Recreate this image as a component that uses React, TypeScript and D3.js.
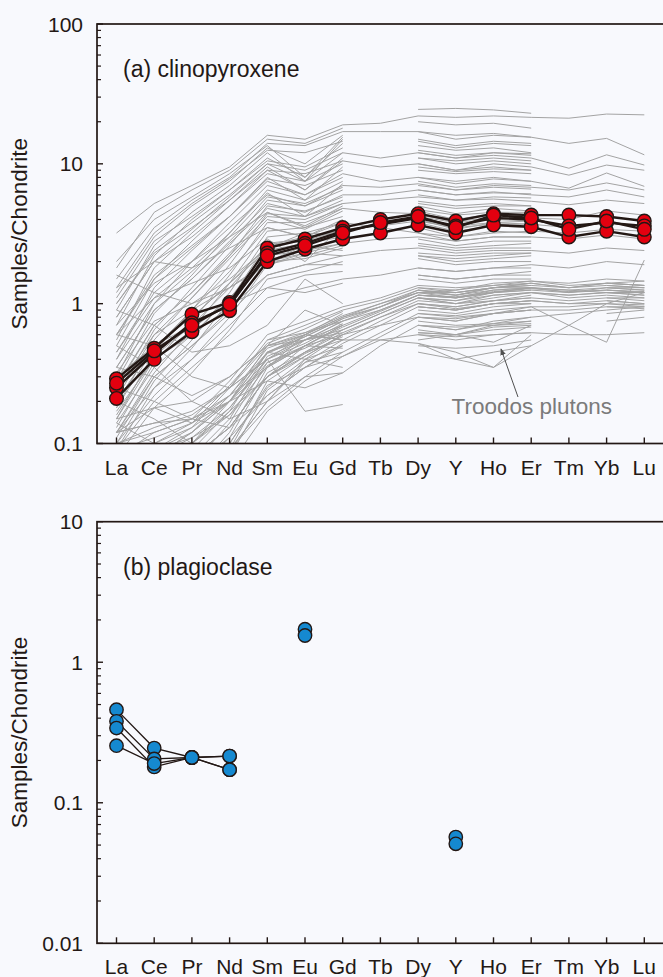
import React from "react";
import * as d3 from "d3";

const ELEMENTS = ["La", "Ce", "Pr", "Nd", "Sm", "Eu", "Gd", "Tb", "Dy", "Y", "Ho", "Er", "Tm", "Yb", "Lu"];
const _ = null;
type V = number | null;

// (a) clinopyroxene, this study
const CPX_SAMPLES: V[][] = [
  [0.29, 0.48, 0.84, 1.02, 2.5, 2.9, 3.5, 4.0, 4.4, 3.9, 4.4, 4.3, 4.3, 4.2, 3.9],
  [0.25, 0.44, 0.73, 0.97, 2.3, 2.7, 3.3, 3.7, 4.1, 3.6, 4.1, 4.0, 3.6, 3.8, 3.6],
  [0.21, 0.40, 0.63, 0.89, 2.0, 2.45, 2.9, 3.2, 3.65, 3.2, 3.65, 3.55, 3.0, 3.3, 3.0],
  [0.27, 0.46, 0.70, 0.99, 2.2, 2.6, 3.2, 3.8, 4.2, 3.5, 4.3, 4.1, 3.4, 3.9, 3.4],
];

// Troodos plutons: complete profiles, upper group
const TROODOS_UPPER: V[][] = [
  [3.2, 5.2, 7.0, 9.5, 16, 15, 19, 19.5, 22, 21.5, 22, 21.5, 21.2, 22.7, 22.4],
  [1.5, 3.5, 5.5, 8, 14, 13.5, 17, 17, 17, 15, 16, 15.5, 14, 15.2, 11.6],
  [1.0, 2.4, 3.8, 6, 10, 7.5, 12, 11, 12, 11, 11.5, 11, 9.3, 11.6, 9.8],
  [0.8, 2.0, 3.0, 5, 9, 6.5, 10.5, 9.5, 10, 9, 10, 9.5, 8.3, 9.8, 9.0],
  [0.6, 1.6, 2.6, 4.2, 7.5, 6.0, 8.5, 7.5, 8, 7.5, 8, 7.5, 6.7, 8.6, 6.9],
  [0.45, 1.2, 2.0, 3.5, 6.0, 5.0, 7.0, 6.8, 7.2, 6.5, 7, 6.8, 6.5, 7.3, 6.5],
  [0.35, 0.9, 1.5, 2.8, 5.2, 4.5, 6.0, 6.0, 6.5, 6.0, 6.3, 6.0, 5.8, 6.5, 5.8],
  [0.25, 0.7, 1.2, 2.2, 4.2, 4.0, 5.2, 5.5, 5.8, 5.5, 5.6, 5.4, 5.1, 5.5, 5.2],
  [0.2, 0.5, 0.8, 1.4, 2.6, 2.8, 3.4, 3.6, 3.9, 3.6, 3.8, 3.7, 3.5, 3.8, 3.6],
  [0.15, 0.4, 0.65, 1.1, 2.0, 2.3, 2.7, 2.9, 3.0, 2.8, 3.0, 3.0, 2.9, 3.1, 2.9],
  [0.12, 0.3, 0.5, 0.85, 1.6, 1.9, 2.2, 2.4, 2.5, 2.3, 2.4, 2.4, 2.3, 2.5, 2.4],
  [0.09, 0.2, 0.35, 0.6, 1.1, 1.3, 1.5, 1.6, 1.8, 1.7, 1.8, 1.9, 1.8, 2.0, 1.9],
  [0.7, 1.4, 2.0, 3.0, 4.5, 3.5, 4.8, 4.5, 4.4, 4.0, 4.3, 4.1, 4.0, 4.6, 4.3],
  [1.3, 2.0, 1.8, 2.5, 3.5, 3.0, 3.8, 3.5, 3.2, 3.0, 3.2, 3.3, 3.2, 3.4, 3.3],
  [0.25, 0.2, 0.15, 0.13, 0.22, 0.35, 0.42, 0.55, 0.6, 0.55, 0.6, 0.62, 0.6, 0.6, 0.62],
];

// Troodos plutons: profiles without Tb, Tm, Yb, Lu
const TROODOS_PARTIAL: V[][] = [
  [1.2, 3.0, 5, 7.5, 13, 10, 16, _, 24.5, 24.9, 24.3, 23, _, _, _],
  [1.8, 4.5, 6.5, 9, 15, 14, 18, _, 20, 19, 19.5, 18, _, _, _],
  [0.9, 2.6, 4.5, 7, 12, 7.5, 15, _, 15, 13.5, 14.5, 14, _, _, _],
  [0.7, 2.2, 4, 6.5, 11, 8, 14, _, 13.5, 12.5, 13, 12, _, _, _],
  [1.1, 2.8, 4.2, 6.5, 10.5, 9.5, 13, _, 12, 11, 12, 11.5, _, _, _],
  [0.55, 1.8, 3.2, 5.5, 9.5, 6.5, 11, _, 11, 10.5, 11, 10.5, _, _, _],
  [0.5, 1.5, 2.8, 5, 8.5, 7.5, 10, _, 10, 9, 9.5, 9, _, _, _],
  [0.4, 1.3, 2.4, 4.2, 8, 5.5, 9.5, _, 9, 8.5, 8.8, 8.5, _, _, _],
  [0.3, 1.0, 2.0, 3.8, 7, 6, 8, _, 8, 7.2, 7.8, 7.5, _, _, _],
  [0.28, 0.85, 1.6, 3.2, 6.5, 5.5, 7.5, _, 7, 6.5, 6.8, 6.6, _, _, _],
  [0.22, 0.65, 1.3, 2.6, 5.5, 5, 6.5, _, 6, 5.5, 5.8, 5.7, _, _, _],
  [0.18, 0.55, 1.1, 2.2, 5.0, 4.6, 5.8, _, 5.4, 5.0, 5.2, 5.0, _, _, _],
  [0.15, 0.45, 0.9, 1.9, 4.4, 4.2, 5.2, _, 5.0, 4.4, 4.8, 4.6, _, _, _],
  [0.13, 0.38, 0.75, 1.6, 3.8, 3.8, 4.8, _, 4.6, 4.0, 4.4, 4.2, _, _, _],
  [0.12, 0.32, 0.65, 1.4, 3.3, 3.5, 4.2, _, 4.2, 3.8, 4.0, 3.9, _, _, _],
  [0.1, 0.28, 0.55, 1.2, 3.0, 3.2, 3.8, _, 3.8, 3.3, 3.6, 3.5, _, _, _],
  [0.09, 0.25, 0.48, 1.05, 2.7, 2.9, 3.4, _, 3.5, 3.0, 3.3, 3.2, _, _, _],
  [0.16, 0.42, 0.7, 1.3, 2.6, 3.0, 3.3, _, 3.2, 2.8, 3.0, 3.0, _, _, _],
  [0.2, 0.5, 0.8, 1.4, 2.4, 2.7, 3.0, _, 2.9, 2.6, 2.8, 2.8, _, _, _],
  [0.14, 0.35, 0.6, 1.1, 2.2, 2.4, 2.7, _, 2.6, 2.4, 2.5, 2.5, _, _, _],
  [0.11, 0.3, 0.5, 0.9, 2.0, 2.1, 2.5, _, 2.3, 2.2, 2.3, 2.3, _, _, _],
  [0.25, 0.6, 0.9, 1.3, 1.9, 2.3, 2.2, _, 2.1, 1.9, 2.0, 2.0, _, _, _],
  [0.17, 0.4, 0.6, 0.95, 1.6, 1.9, 1.9, _, 1.8, 1.7, 1.8, 1.8, _, _, _],
  [0.32, 0.75, 1.0, 1.5, 2.5, 3.2, 3.1, _, 1.6, 1.5, 1.6, 1.6, _, _, _],
  [0.12, 0.25, 0.4, 0.7, 1.3, 1.6, 1.7, _, 1.5, 1.4, 1.5, 1.5, _, _, _],
  [1.6, 1.2, 1.0, 1.3, 2.0, 2.6, 2.4, _, 2.2, 2.0, 2.1, 2.2, _, _, _],
  [0.9, 0.7, 0.45, 0.5, 0.7, 1.5, 1.0, _, 1.1, 1.0, 1.05, 1.1, _, _, _],
  [0.5, 0.35, 0.2, 0.15, 0.2, 0.4, 0.35, _, 0.5, 0.48, 0.5, 0.55, _, _, _],
  [0.35, 0.3, 0.22, 0.3, 0.5, 0.9, 0.7, _, 0.9, 0.85, 0.95, 1.0, _, _, _],
  [0.6, 1.1, 1.4, 1.8, 2.9, 2.0, 3.6, _, 4.0, 3.4, 3.8, 3.9, _, _, _],
  [0.1, 0.12, 0.15, 0.22, 0.35, 0.6, 0.55, _, 0.7, 0.65, 0.72, 0.75, _, _, _],
  [0.08, 0.09, 0.11, 0.16, 0.3, 0.5, 0.48, _, 0.6, 0.58, 0.6, 0.62, _, _, _],
  [0.12, 0.14, 0.17, 0.25, 0.4, 0.17, 0.19, _, 0.52, 0.4, 0.35, 0.6, _, _, _],
  [0.15, 0.18, 0.2, 0.3, 0.5, 0.55, 0.65, _, 0.55, 0.6, 0.53, 0.7, _, _, _],
  [0.3, 0.5, 0.7, 1.0, 1.3, 1.2, 1.4, _, 1.6, 1.5, 1.6, 1.7, _, _, _],
  [0.4, 1.0, 1.7, 3.0, 5.8, 5.2, 6.8, _, 6.5, 6.0, 6.2, 6.1, _, _, _],
  [0.35, 0.9, 1.5, 2.7, 4.8, 4.2, 5.5, _, 5.2, 4.8, 5.0, 5.0, _, _, _],
  [0.26, 0.7, 1.2, 2.3, 4.5, 3.6, 5.0, _, 4.7, 4.3, 4.5, 4.5, _, _, _],
  [0.45, 1.1, 1.8, 3.2, 6.2, 4.2, 7.2, _, 7.5, 6.8, 7.2, 7.0, _, _, _],
  [0.6, 1.5, 2.5, 4.2, 7.8, 7.0, 9.0, _, 9.5, 8.8, 9.2, 9.0, _, _, _],
  [0.8, 2.0, 3.4, 5.8, 10, 9.0, 12, _, 12.5, 11.5, 12, 11.8, _, _, _],
  [0.21, 0.6, 1.1, 2.1, 4.0, 3.4, 4.6, _, 4.3, 3.9, 4.1, 4.2, _, _, _],
  [0.18, 0.48, 0.9, 1.7, 3.5, 3.0, 4.0, _, 3.9, 3.5, 3.7, 3.7, _, _, _],
  [0.1, 0.22, 0.4, 0.8, 1.9, 2.2, 2.6, _, 2.7, 2.5, 2.6, 2.7, _, _, _],
  [0.08, 0.18, 0.32, 0.65, 1.5, 1.7, 2.0, _, 2.2, 2.1, 2.2, 2.3, _, _, _],
  [1.0, 2.3, 3.5, 5.5, 9, 8.5, 10.5, _, 11, 10, 10.5, 10, _, _, _],
  [1.3, 3.2, 5.2, 7.8, 12.5, 12, 14.5, _, 14.5, 13, 14, 13.5, _, _, _],
  [2.0, 4.0, 5.8, 8.5, 13.5, 8.0, 15.5, _, 17, 16, 16.5, 15.5, _, _, _],
  [0.14, 0.1, 0.08, 0.1, 0.25, 0.4, 0.5, _, 0.7, 0.68, 0.7, 0.75, _, _, _],
  [0.12, 0.18, 0.14, 0.2, 0.28, 0.25, 0.32, _, 0.45, 0.4, 0.45, 0.5, _, _, _],
  [0.6, 0.5, 0.3, 0.25, 0.4, 0.6, 0.55, _, 0.62, 0.6, 0.65, 0.68, _, _, _],
  [_, _, _, _, 0.45, 0.55, 0.7, _, 0.95, 0.9, 1.0, 1.0, _, _, _],
  [_, _, _, _, 0.55, 0.62, 0.75, _, 0.65, 0.6, 0.7, 0.72, _, _, _],
  [_, _, _, _, 0.35, 0.5, 0.6, _, 0.85, 0.8, 0.85, 0.9, _, _, _],
];

// Troodos plutons: depleted (lower) group
const TROODOS_LOWER: V[][] = [
  [0.03, 0.04, 0.06, 0.12, 0.35, 0.5, 0.7, 0.9, 1.15, 1.1, 1.2, 1.3, 1.25, 1.3, 1.3],
  [0.04, 0.05, 0.08, 0.15, 0.42, 0.55, 0.75, 0.95, 1.2, 1.2, 1.3, 1.35, 1.3, 1.4, 1.35],
  [0.02, 0.03, 0.05, 0.09, 0.28, 0.42, 0.6, 0.8, 1.05, 1.0, 1.1, 1.2, 1.15, 1.2, 1.2],
  [0.05, 0.07, 0.1, 0.2, 0.5, 0.62, 0.82, 1.0, 1.25, 1.15, 1.25, 1.3, 1.2, 1.25, 1.2],
  [0.06, 0.09, 0.13, 0.25, 0.55, 0.7, 0.9, 1.05, 1.3, 1.25, 1.4, 1.45, 1.35, 1.4, 1.45],
  [0.03, 0.05, 0.07, 0.14, 0.38, 0.48, 0.65, 0.85, 1.1, 1.05, 1.15, 1.2, 1.1, 1.15, 1.1],
  [0.02, 0.03, 0.04, 0.08, 0.24, 0.38, 0.55, 0.75, 1.0, 0.95, 1.05, 1.1, 1.05, 1.1, 1.05],
  [0.08, 0.12, 0.15, 0.28, 0.6, 0.75, 0.95, 1.1, 1.35, 1.3, 1.35, 1.4, 1.3, 1.35, 1.3],
  [0.04, 0.06, 0.09, 0.17, 0.45, 0.6, 0.8, 0.95, 1.2, 1.15, 1.3, 1.3, 1.25, 1.2, 1.15],
  [0.03, 0.04, 0.06, 0.11, 0.32, 0.45, 0.62, 0.8, 1.0, 0.92, 1.0, 1.05, 1.0, 1.0, 0.95],
  [0.05, 0.06, 0.08, 0.13, 0.3, 0.45, 0.65, 0.85, 1.1, 1.0, 1.15, 1.2, 1.15, 1.2, 1.15],
  [0.04, 0.05, 0.07, 0.11, 0.22, 0.35, 0.52, 0.7, 0.95, 0.9, 1.0, 1.05, 1.0, 1.05, 1.0],
  [0.07, 0.09, 0.12, 0.2, 0.4, 0.55, 0.75, 0.9, 1.15, 1.1, 1.2, 1.25, 1.2, 1.3, 1.25],
  [0.03, 0.04, 0.05, 0.09, 0.2, 0.3, 0.45, 0.62, 0.85, 0.82, 0.9, 0.95, 0.95, 1.0, 0.98],
  [0.09, 0.11, 0.14, 0.22, 0.45, 0.58, 0.78, 0.95, 1.25, 1.2, 1.3, 1.4, 1.3, 1.4, 1.35],
  [0.06, 0.08, 0.11, 0.18, 0.38, 0.5, 0.68, 0.88, 1.15, 1.12, 1.22, 1.28, 1.22, 1.25, 1.22],
  [0.02, 0.03, 0.04, 0.07, 0.17, 0.28, 0.42, 0.58, 0.8, 0.78, 0.85, 0.9, 0.9, 0.95, 0.95],
  [0.1, 0.13, 0.16, 0.25, 0.5, 0.6, 0.8, 1.0, 1.2, 1.25, 1.35, 1.45, 1.4, 1.5, 1.45],
  [0.05, 0.08, 0.12, 0.22, 0.48, 0.6, 0.85, _, 1.2, 1.1, 1.25, 1.3, _, 1.3, 1.25],
  [0.04, 0.06, 0.1, 0.18, 0.4, 0.52, 0.72, _, 1.1, 1.05, 1.2, 1.25, _, 1.2, 1.2],
  [0.07, 0.1, 0.14, 0.26, 0.52, 0.66, 0.88, _, 1.3, 1.2, 1.3, 1.35, _, 1.35, 1.3],
  [0.03, 0.05, 0.08, 0.13, 0.3, 0.44, 0.58, _, 0.95, 0.9, 1.0, 1.05, _, 1.05, 1.0],
  [0.02, 0.04, 0.06, 0.1, 0.26, 0.35, 0.5, _, 0.8, 0.75, 0.85, 0.9, _, 0.95, 0.92],
  [0.06, 0.08, 0.1, 0.16, 0.36, 0.5, 0.7, _, 1.15, 1.1, 1.2, 1.3, _, 1.25, 1.2],
  [0.05, 0.06, 0.08, 0.13, 0.3, 0.42, 0.6, _, 1.0, 0.95, 1.05, 1.15, _, 1.1, 1.1],
  [0.08, 0.1, 0.13, 0.2, 0.44, 0.58, 0.78, _, 1.25, 1.15, 1.3, 1.4, _, 1.4, 1.35],
  [0.12, 0.14, 0.15, 0.2, 0.35, 0.55, 0.62, _, 0.75, 0.7, 0.72, 0.8, _, 0.85, 0.9],
  [0.04, 0.05, 0.06, 0.09, 0.2, 0.38, 0.45, _, 0.62, 0.6, 0.68, 0.7, _, 0.75, 0.8],
  [0.05, 0.08, 0.12, 0.2, 0.45, 0.4, 0.6, 0.7, 0.8, 0.75, 0.85, 0.95, 0.7, 0.53, 2.05],
  [0.06, 0.08, 0.1, 0.17, 0.3, 0.45, 0.55, 0.55, 0.52, 0.45, 0.35, 0.5, 0.7, 1.0, 1.2],
  [0.2, 0.15, 0.1, 0.09, 0.18, 0.3, 0.32, 0.5, 0.7, 0.65, 0.75, 0.8, 0.85, 0.9, 0.95],
];

// (b) plagioclase, this study
const PLAG_SAMPLES: V[][] = [
  [0.46, 0.245, 0.21, 0.215, _, 1.72, _, _, _, 0.057, _, _, _, _, _],
  [0.38, 0.205, 0.21, 0.215, _, _, _, _, _, _, _, _, _, _, _],
  [0.34, 0.18, 0.21, 0.172, _, 1.55, _, _, _, 0.051, _, _, _, _, _],
  [0.255, 0.19, 0.21, 0.172, _, _, _, _, _, _, _, _, _, _, _],
];

const TICKS_A = [0.1, 1, 10, 100];
const TICK_LABELS_A = ["0.1", "1", "10", "100"];
const TICKS_B = [0.01, 0.1, 1, 10];
const TICK_LABELS_B = ["0.01", "0.1", "1", "10"];

const W = 663;
const H = 977;
const FRAME_L = 97;
const FRAME_R = 664;
const FONT = "'Liberation Sans', Arial, sans-serif";
const INK = "#231815";

const x = d3.scalePoint<string>().domain(ELEMENTS).range([116.5, 644.3]);

function minorTicks(domain: [number, number]) {
  const out: number[] = [];
  for (let d = domain[0]; d < domain[1] * 0.999; d *= 10) {
    for (let k = 2; k <= 9; k++) out.push(d * k);
  }
  return out;
}

function Panel(props: {
  id: string;
  top: number;
  bottom: number;
  domain: [number, number];
  ticks: number[];
  tickLabels: string[];
  title: string;
  children?: (y: d3.ScaleLogarithmic<number, number>) => React.ReactNode;
}) {
  const { id, top, bottom, domain, ticks, tickLabels, title } = props;
  const y = d3.scaleLog().domain(domain).range([bottom, top]);
  const minors = minorTicks(domain);
  return (
    <g>
      <defs>
        <clipPath id={id}>
          <rect x={FRAME_L} y={top} width={FRAME_R - FRAME_L} height={bottom - top} />
        </clipPath>
      </defs>
      <g clipPath={`url(#${id})`}>{props.children ? props.children(y) : null}</g>
      <rect x={FRAME_L} y={top} width={FRAME_R - FRAME_L} height={bottom - top} fill="none" stroke={INK} strokeWidth={1.7} />
      {ticks.map((t, i) => (
        <g key={"t" + i}>
          <line x1={FRAME_L} x2={FRAME_L + 6} y1={y(t)} y2={y(t)} stroke={INK} strokeWidth={1.4} />
          <text x={FRAME_L - 14} y={y(t)} dy="0.36em" textAnchor="end" fontSize={21} fill={INK} fontFamily={FONT}>
            {tickLabels[i]}
          </text>
        </g>
      ))}
      {minors.map((t, i) => (
        <line key={"m" + i} x1={FRAME_L} x2={FRAME_L + 4} y1={y(t)} y2={y(t)} stroke={INK} strokeWidth={1.2} />
      ))}
      {ELEMENTS.map((e) => (
        <g key={e}>
          <line x1={x(e)} x2={x(e)} y1={bottom} y2={bottom - 6} stroke={INK} strokeWidth={1.4} />
          <text x={x(e)} y={bottom + 31} textAnchor="middle" fontSize={21} fill={INK} fontFamily={FONT}>
            {e}
          </text>
        </g>
      ))}
      <text x={123} y={top + 53} fontSize={23} fill={INK} fontFamily={FONT}>
        {title}
      </text>
      <text
        transform={`translate(27,${(top + bottom) / 2}) rotate(-90)`}
        textAnchor="middle"
        fontSize={22.5}
        fill={INK}
        fontFamily={FONT}
      >
        Samples/Chondrite
      </text>
    </g>
  );
}

function makeLine(y: d3.ScaleLogarithmic<number, number>) {
  return d3
    .line<V>()
    .defined((d) => d != null)
    .x((_d, i) => x(ELEMENTS[i]) as number)
    .y((d) => y(d as number));
}

function Markers(props: { rows: V[][]; y: d3.ScaleLogarithmic<number, number>; fill: string; r: number }) {
  const { rows, y, fill, r } = props;
  return (
    <g>
      {rows.map((row, si) =>
        row.map((v, i) =>
          v == null ? null : (
            <circle key={si + "-" + i} cx={x(ELEMENTS[i])} cy={y(v)} r={r} fill={fill} stroke={INK} strokeWidth={1.4} />
          )
        )
      )}
    </g>
  );
}

export default function App() {
  const greys = [...TROODOS_UPPER, ...TROODOS_PARTIAL, ...TROODOS_LOWER];
  return (
    <svg width={W} height={H} style={{ position: "absolute", left: 0, top: 0, background: "#f8f9fd" }}>
      <rect x={0} y={0} width={W} height={H} fill="#f8f9fd" />
      <Panel id="clipA" top={24} bottom={443.5} domain={[0.1, 100]} ticks={TICKS_A} tickLabels={TICK_LABELS_A} title="(a) clinopyroxene">
        {(y) => {
          const line = makeLine(y);
          return (
            <g>
              {greys.map((row, i) => (
                <path key={"g" + i} d={line(row) || ""} fill="none" stroke="#a3a3a3" strokeWidth={1} />
              ))}
              {CPX_SAMPLES.map((row, i) => (
                <path key={"c" + i} d={line(row) || ""} fill="none" stroke={INK} strokeWidth={2.4} />
              ))}
              <Markers rows={CPX_SAMPLES} y={y} fill="#e3000f" r={6.8} />
            </g>
          );
        }}
      </Panel>
      <Panel id="clipB" top={521.7} bottom={943.3} domain={[0.01, 10]} ticks={TICKS_B} tickLabels={TICK_LABELS_B} title="(b) plagioclase">
        {(y) => {
          const line = makeLine(y);
          return (
            <g>
              {PLAG_SAMPLES.map((row, i) => (
                <path key={"p" + i} d={line(row) || ""} fill="none" stroke={INK} strokeWidth={1.3} />
              ))}
              <Markers rows={PLAG_SAMPLES} y={y} fill="#1589d0" r={6.7} />
            </g>
          );
        }}
      </Panel>
      <defs>
        <marker id="arrowHead" viewBox="0 0 10 10" refX="9" refY="5" markerWidth="7" markerHeight="7" orient="auto">
          <path d="M0,1 L10,5 L0,9 z" fill="#505050" />
        </marker>
      </defs>
      <line x1={518} y1={397} x2={501} y2={349} stroke="#505050" strokeWidth={1} markerEnd="url(#arrowHead)" />
      <text x={451.5} y={414} fontSize={22.5} fill="#7b7b7b" fontFamily={FONT}>
        Troodos plutons
      </text>
    </svg>
  );
}
